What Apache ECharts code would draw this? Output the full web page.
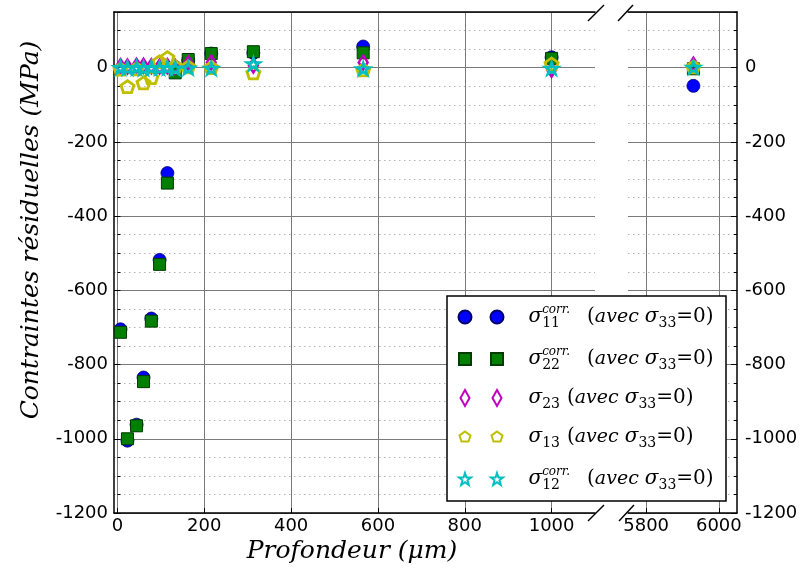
<!DOCTYPE html>
<html><head><meta charset="utf-8">
<script src="https://cdn.jsdelivr.net/npm/echarts@6/dist/echarts.min.js"></script>
<style>html,body{margin:0;padding:0;background:#fff}#c{width:801px;height:576px}</style>
</head><body><div id="c"></div>
<script>
// ---- data ----
const depths  = [7, 23, 44, 60, 78, 97, 115, 133, 163, 216, 313, 566, 1000, 5930];
const sigma11 = [-705, -1005, -962, -835, -676, -518, -284, 2, 20, 38, 40, 57, 28, -49];
const sigma22 = [-713, -1000, -965, -846, -683, -530, -311, -14, 22, 38, 43, 40, 25, -3];
const sigma23 = [4, 3, 5, 5, 4, 3, 4, 2, 12, 14, 6, 14, -6, 8];
const sigma13 = [-4, -51, -3, -41, -27, 16, 27, 3, 2, 0, -14, -6, 10, 2];
const sigma12 = [0, -1, 0, -2, 0, -1, 0, -2, -1, -2, 10, -3, -2, 1];
const xTicksLeft  = [0, 200, 400, 600, 800, 1000];
const xTicksRight = [5800, 6000];
const yMin = -1200, yMax = 150;
const leftRange = [-8, 1100];
const rightRange = [5750, 6050];

function pts(vals, right) {
  return depths.map((d, i) => [d, vals[i]])
    .filter(p => right ? p[0] > leftRange[1] : p[0] <= leftRange[1]);
}

const PENT = 'path://M50,0 L97.6,34.5 L79.4,90.5 L20.6,90.5 L2.4,34.5 Z';
const STAR = 'path://M50,0 L61.2,34.5 L97.6,34.5 L68.2,55.9 L79.4,90.5 L50,69.1 L20.6,90.5 L31.8,55.9 L2.4,34.5 L38.8,34.5 Z';

const defs = [
  {name: 's11', vals: sigma11, symbol: 'circle', size: 13,
   style: {color: '#0000ff', borderColor: '#00006a', borderWidth: 0.8, opacity: 1},
   icon: 'circle'},
  {name: 's22', vals: sigma22, symbol: 'rect', size: 12,
   style: {color: '#007f00', borderColor: '#003a00', borderWidth: 1, opacity: 1},
   icon: 'path://M0,0 M13,18 M0.5,3 L12.5,3 L12.5,15 L0.5,15 Z'},
  {name: 's23', vals: sigma23, symbol: 'diamond', size: [9, 14],
   style: {color: 'rgba(255,255,255,0)', borderColor: '#bf00bf', borderWidth: 2.5, opacity: 1},
   icon: 'path://M0,0 M13,18 M6.5,1 L11,9 L6.5,17 L2,9 Z'},
  {name: 's13', vals: sigma13, symbol: PENT, size: [13, 12],
   style: {color: 'rgba(255,255,255,0)', borderColor: '#bfbf00', borderWidth: 2.8, opacity: 1},
   icon: 'path://M0,0 M13,18 M6.5,3.5 L12,7.5 L10,13.5 L3,13.5 L1,7.5 Z'},
  {name: 's12', vals: sigma12, symbol: STAR, size: [13, 12],
   style: {color: 'rgba(255,255,255,0)', borderColor: '#00bfbf', borderWidth: 2.5, opacity: 1},
   icon: 'path://M0,0 M13,18 M6.5,3 L8,7.5 L12.5,7.5 L9,10.3 L10.3,15 L6.5,12.2 L2.7,15 L4,10.3 L0.5,7.5 L5,7.5 Z'}
];

const legendText = {
  s11: '{g0|σ}{sbz|11}{sp|corr.}{r|(}{i|avec }{g|σ}{sb|33}{r2|=0)}',
  s22: '{g0|σ}{sbz|22}{sp|corr.}{r|(}{i|avec }{g|σ}{sb|33}{r2|=0)}',
  s23: '{g0|σ}{sb|23}{rs|(}{i|avec }{g|σ}{sb|33}{r2|=0)}',
  s13: '{g0|σ}{sb|13}{rs|(}{i|avec }{g|σ}{sb|33}{r2|=0)}',
  s12: '{g0|σ}{sbz|12}{sp|corr.}{r|(}{i|avec }{g|σ}{sb|33}{r2|=0)}'
};

function rich(color) {
  const SER = 'DejaVu Serif';
  const LH = 26;
  return {
    g0: {fontFamily: SER, fontStyle: 'italic', fontSize: 20, color, lineHeight: LH, padding: [0, 0, 0, 20]},
    g: {fontFamily: SER, fontStyle: 'italic', fontSize: 20, color, lineHeight: LH},
    sb: {fontFamily: SER, fontSize: 14, color, lineHeight: 13, verticalAlign: 'bottom'},
    sbz: {fontFamily: SER, fontSize: 14, color, lineHeight: 13, verticalAlign: 'bottom', width: 0},
    sp: {fontFamily: SER, fontStyle: 'italic', fontSize: 12, color, lineHeight: 13, verticalAlign: 'top'},
    r: {fontFamily: SER, fontSize: 20, color, lineHeight: LH, padding: [0, 0, 0, 17]},
    rs: {fontFamily: SER, fontSize: 20, color, lineHeight: LH, padding: [0, 0, 0, 7]},
    r2: {fontFamily: SER, fontSize: 20, color, lineHeight: LH},
    i: {fontFamily: SER, fontStyle: 'italic', fontSize: 19, color, lineHeight: LH}
  };
}

const series = [];
defs.forEach(d => {
  [false, true].forEach(right => {
    series.push({
      name: d.name, type: 'scatter',
      xAxisIndex: right ? 2 : 0, yAxisIndex: right ? 3 : 1,
      symbol: d.symbol, symbolSize: d.size,
      itemStyle: d.style,
      emphasis: {disabled: true},
      data: pts(d.vals, right)
    });
  });
});

const plain = v => String(v);
const labelFont = {fontFamily: 'DejaVu Sans', fontSize: 18, color: '#000', formatter: plain};
const spine = {show: true, onZero: false, lineStyle: {color: '#000', width: 1.5}};
const majorGrid = {show: true, lineStyle: {color: '#7a7a7a', width: 1}};
const minorGrid = {show: true, lineStyle: {color: '#b4b4b4', width: 1, type: [1.5, 3.5]}};

function xAxes(grid, range, ticks) {
  return [
    {type: 'value', gridIndex: grid, position: 'bottom', min: range[0], max: range[1],
     axisLine: spine,
     axisTick: {show: true, inside: true, length: 5, customValues: ticks, lineStyle: {color: '#000'}},
     axisLabel: Object.assign({customValues: ticks, margin: 4}, labelFont),
     splitLine: majorGrid},
    {type: 'value', gridIndex: grid, position: 'top', min: range[0], max: range[1],
     axisLine: spine, axisTick: {show: false}, axisLabel: {show: false}, splitLine: {show: false}}
  ];
}
function yAxes(grid, pos) {
  return [
    {type: 'value', gridIndex: grid, position: pos, min: yMin, max: yMax, interval: 50,
     axisLine: {show: false},
     axisTick: {show: true, inside: true, length: 3, lineStyle: {color: '#000'}},
     axisLabel: {show: false}, splitLine: minorGrid},
    {type: 'value', gridIndex: grid, position: pos, min: yMin, max: yMax, interval: 200,
     axisLine: spine,
     axisTick: {show: true, inside: true, length: 6, lineStyle: {color: '#000'}},
     axisLabel: Object.assign({showMaxLabel: false, margin: pos === 'left' ? 6 : 8}, labelFont),
     splitLine: majorGrid}
  ];
}

const xAx = xAxes(0, leftRange, xTicksLeft).concat(xAxes(1, rightRange, xTicksRight));
const yAx = yAxes(0, 'left').concat(yAxes(1, 'right'));

function legendComp(left, color) {
  return {
    orient: 'vertical', left: left, top: 304, padding: 0,
    itemWidth: 13, itemHeight: 18, itemGap: 16, z: 20,
    selectedMode: false,
    data: defs.map(d => ({name: d.name, icon: d.icon})),
    formatter: n => legendText[n],
    textStyle: {rich: rich(color)}
  };
}

const slash = (x1, y1, x2, y2) => ({type: 'line', z: 15, silent: true,
  shape: {x1, y1, x2, y2}, style: {stroke: '#000', lineWidth: 1.5}});

const option = {
  backgroundColor: '#fff',
  animation: false,
  grid: [
    {left: 114, top: 12, width: 481, height: 501},
    {left: 628, top: 12, width: 109, height: 501}
  ],
  xAxis: xAx,
  yAxis: yAx,
  legend: [legendComp(457.5, 'rgba(0,0,0,0)'), legendComp(489.5, '#000')],
  graphic: {elements: [
    {type: 'rect', z: 10, silent: true, shape: {x: 447, y: 296, width: 279, height: 205},
     style: {fill: '#fff', stroke: '#000', lineWidth: 1.5}},
    slash(588, 21, 604, 5), slash(618, 21, 633, 5),
    slash(588, 521, 604, 505), slash(619, 521, 634, 505),
    {type: 'text', z: 15, x: 352, y: 551, silent: true,
     style: {text: 'Profondeur (μm)', fontFamily: 'DejaVu Serif', fontStyle: 'italic', fontSize: 25,
             fill: '#000', align: 'center', verticalAlign: 'middle'}},
    {type: 'text', z: 15, x: 31, y: 230, rotation: Math.PI / 2, silent: true,
     style: {text: 'Contraintes résiduelles (MPa)', fontFamily: 'DejaVu Serif', fontStyle: 'italic', fontSize: 25,
             fill: '#000', align: 'center', verticalAlign: 'middle'}}
  ]},
  series: series
};

const chart = echarts.init(document.getElementById('c'), null, {renderer: 'canvas'});
chart.setOption(option);
</script>
</body></html>
